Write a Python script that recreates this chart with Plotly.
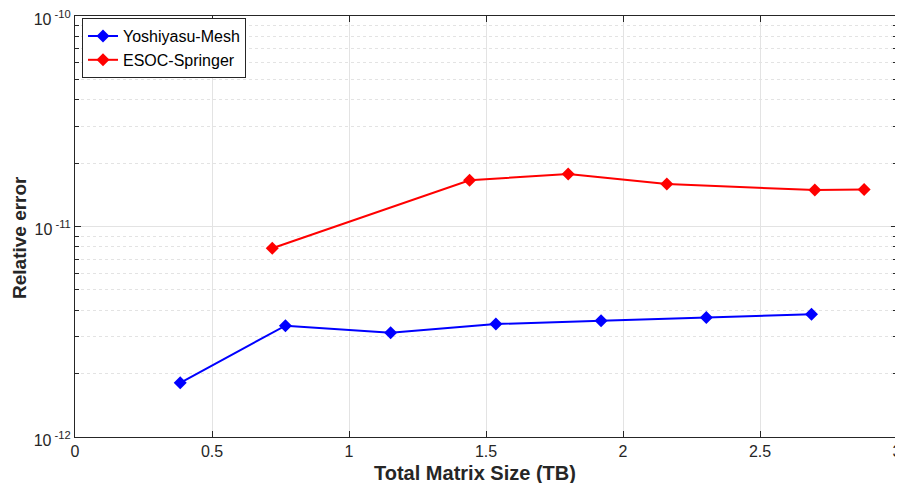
import plotly.graph_objects as go

yoshi_x = [0.384, 0.768, 1.152, 1.536, 1.92, 2.304, 2.688]
yoshi_y = [1.81e-12, 3.38e-12, 3.13e-12, 3.44e-12, 3.57e-12, 3.70e-12, 3.83e-12]
esoc_x = [0.72, 1.44, 1.80, 2.16, 2.70, 2.88]
esoc_y = [7.88e-12, 1.658e-11, 1.775e-11, 1.59e-11, 1.49e-11, 1.50e-11]

x_ticks = [0, 0.5, 1, 1.5, 2, 2.5, 3]
x_ticklabels = ["0", "0.5", "1", "1.5", "2", "2.5", "3"]
y_ticks = [1e-12, 1e-11, 1e-10]
y_ticklabels = ["10<sup> -12</sup>", "10<sup> -11</sup>", "10<sup> -10</sup>"]
x_title = "Total Matrix Size (TB)"
y_title = "Relative error"

fig = go.Figure()
fig.add_trace(go.Scatter(x=yoshi_x, y=yoshi_y, mode="lines+markers", name="Yoshiyasu-Mesh",
                         line=dict(color="#0000ff", width=2),
                         marker=dict(symbol="diamond", size=10, color="#0000ff")))
fig.add_trace(go.Scatter(x=esoc_x, y=esoc_y, mode="lines+markers", name="ESOC-Springer",
                         line=dict(color="#ff0000", width=2),
                         marker=dict(symbol="diamond", size=10, color="#ff0000")))

# page body has an 8px margin, so the figure is offset to compensate
fig.update_layout(
    width=903, height=483,
    margin=dict(l=67, r=14, t=8, b=54),
    paper_bgcolor="white", plot_bgcolor="white",
    font=dict(family="Liberation Sans, Arial, sans-serif", size=16, color="#262626"),
    showlegend=True,
    legend=dict(x=0.0085, y=0.995, xanchor="left", yanchor="top",
                bgcolor="white", bordercolor="#262626", borderwidth=1,
                font=dict(size=16, color="#000000"), tracegroupgap=0,
                itemwidth=30),
    annotations=[
        dict(text="<b>" + x_title + "</b>", xref="paper", yref="paper", x=0.4866, y=0,
             xanchor="center", yanchor="middle", yshift=-36, showarrow=False,
             font=dict(size=20, color="#262626")),
        dict(text="<b>" + y_title + "</b>", xref="paper", yref="paper", x=0, y=0.4727,
             xanchor="center", yanchor="middle", xshift=-55, textangle=-90, showarrow=False,
             font=dict(size=19, color="#262626")),
    ],
)
fig.update_xaxes(
    range=[0, 3], tickvals=x_ticks, ticktext=x_ticklabels,
    showgrid=True, gridcolor="#e3e3e3", gridwidth=1,
    ticks="inside", ticklen=6, tickcolor="#262626",
    showline=True, linecolor="#262626", linewidth=1, mirror="ticks",
    zeroline=False, automargin=False, ticklabeloverflow="allow",
    tickfont=dict(size=16),
)
fig.update_yaxes(
    type="log", range=[-12, -10], tickvals=y_ticks, ticktext=y_ticklabels,
    showgrid=True, gridcolor="#e3e3e3", gridwidth=1,
    ticks="inside", ticklen=6, tickcolor="#262626",
    showline=True, linecolor="#262626", linewidth=1, mirror="ticks",
    zeroline=False, automargin=False, ticklabeloverflow="allow",
    ticklabelshift=3, tickfont=dict(size=16),
    minor=dict(dtick="D1", showgrid=True, gridcolor="#e3e3e3", griddash="dot",
               ticks="inside", ticklen=4, tickcolor="#262626"),
)

fig.write_html("out.html")
